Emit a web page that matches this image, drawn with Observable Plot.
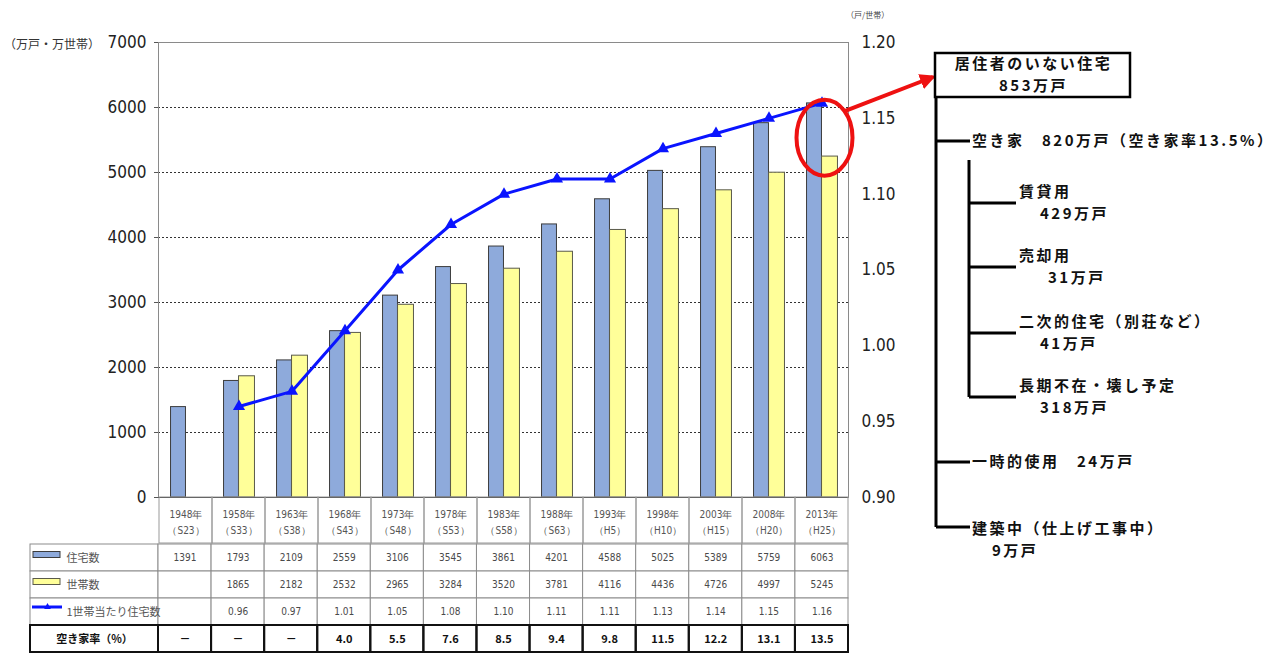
<!DOCTYPE html>
<html>
<head>
<meta charset="utf-8">
<script src="https://cdn.jsdelivr.net/npm/d3@7"></script>
<script src="https://cdn.jsdelivr.net/npm/@observablehq/plot@0.6"></script>
<style>
  html, body { margin: 0; padding: 0; background: #fff; }
  #chart { position: relative; width: 1279px; height: 653px; overflow: hidden; background: #fff;
           font-family: "Noto Sans CJK JP", "Noto Sans", sans-serif; }
  #chart svg { position: absolute; left: 0; top: 0; }
</style>
</head>
<body>
<div id="chart"></div>
<script>
// ---- data -------------------------------------------------------------
const years = ["1948年","1958年","1963年","1968年","1973年","1978年","1983年","1988年","1993年","1998年","2003年","2008年","2013年"];
const eras = ["（S23）","（S33）","（S38）","（S43）","（S48）","（S53）","（S58）","（S63）","（H5）","（H10）","（H15）","（H20）","（H25）"];
const housing = [1391, 1793, 2109, 2559, 3106, 3545, 3861, 4201, 4588, 5025, 5389, 5759, 6063];      // 住宅数（万戸）
const households = [null, 1865, 2182, 2532, 2965, 3284, 3520, 3781, 4116, 4436, 4726, 4997, 5245]; // 世帯数（万世帯）
const perHousehold = [null, 0.96, 0.97, 1.01, 1.05, 1.08, 1.10, 1.11, 1.11, 1.13, 1.14, 1.15, 1.16]; // 1世帯当たり住宅数
const vacancyRate = [null, null, null, 4.0, 5.5, 7.6, 8.5, 9.4, 9.8, 11.5, 12.2, 13.1, 13.5];      // 空き家率（%）

const leftTicks = [0, 1000, 2000, 3000, 4000, 5000, 6000, 7000];
const rightTicks = [0.90, 0.95, 1.00, 1.05, 1.10, 1.15, 1.20];
const rowLabels = ["住宅数", "世帯数", "1世帯当たり住宅数", "空き家率（%）"];

// 2013年の居住者のいない住宅の内訳（万戸）
const unoccupiedTotal = 853;
const vacantTotal = 820;
const vacantTypes = ["賃貸用", "売却用", "二次的住宅（別荘など）", "長期不在・壊し予定"];
const vacantUnits = [429, 31, 41, 318];
const otherTypes = ["一時的使用", "建築中（仕上げ工事中）"];
const otherUnits = [24, 9];

// ---- layout -----------------------------------------------------------
const W = 1279, H = 653;
const FL = 158, FR = 848, FT = 42, FB = 497;      // plot frame
const HEAD_B = 543, TABLE_B = 652, TABLE_L = 30;  // data table
const colW = (FR - FL) / years.length;
const numFont = "'Liberation Sans Narrow','DejaVu Sans Condensed','Liberation Sans',sans-serif";
const jpFont = "'Noto Sans CJK JP','Noto Sans',sans-serif";

const rows = years.map((year, i) => ({
  year, era: eras[i], housing: housing[i], households: households[i],
  ratio: perHousehold[i], vacancy: vacancyRate[i], col: i
}));

const chart = document.getElementById("chart");
const frameMargins = {width: W, height: H, marginLeft: FL, marginRight: W - FR};

// ---- bars: 住宅数 & 世帯数 (left axis) ---------------------------------
const barPlot = Plot.plot({
  ...frameMargins, marginTop: FT, marginBottom: H - FB,
  style: {background: "transparent", fontFamily: numFont, fontSize: "17px", color: "#222"},
  x: {type: "band", domain: years, padding: 0, axis: null},
  y: {domain: [0, 7000], label: null, axis: null},
  marks: [
    Plot.ruleY(leftTicks.filter(t => t > 0 && t < 7000), {stroke: "#333", strokeDasharray: "2,2"}),
    Plot.barY(rows, {x: "year", y: "housing", fill: "#8eaadb", stroke: "#3c3c3c", strokeWidth: 1,
      insetLeft: colW / 2 - 15, insetRight: colW / 2}),
    Plot.barY(rows.filter(d => d.households != null), {x: "year", y: "households", fill: "#ffff99", stroke: "#5a5a4a", strokeWidth: 1,
      insetLeft: colW / 2, insetRight: colW / 2 - 16}),
    Plot.frame({stroke: "#8a8a8a"}),
    Plot.ruleY([0], {stroke: "#333"}),
    Plot.axisY({ticks: leftTicks, tickSize: 4, tickPadding: 8, tickFormat: d => String(d), label: null, stroke: "#555"})
  ]
});
chart.append(barPlot);

// ---- line: 1世帯当たり住宅数 (right axis) -------------------------------
const ratioRows = rows.filter(d => d.ratio != null);
const linePlot = Plot.plot({
  ...frameMargins, marginTop: FT, marginBottom: H - FB,
  style: {background: "transparent", fontFamily: numFont, fontSize: "17px", color: "#222"},
  x: {type: "band", domain: years, padding: 0, axis: null},
  y: {domain: [0.9, 1.2], label: null, axis: null},
  marks: [
    Plot.line(ratioRows, {x: "year", y: "ratio", stroke: "#0a14ff", strokeWidth: 3}),
    Plot.dot(ratioRows, {x: "year", y: "ratio", symbol: "triangle", fill: "#0a14ff", r: 4.5}),
    Plot.axisY({anchor: "right", ticks: rightTicks, tickFormat: d3.format(".2f"), tickSize: 0, tickPadding: 13, label: null})
  ]
});
chart.append(linePlot);

// ---- table header: years ------------------------------------------------
const headPlot = Plot.plot({
  ...frameMargins, marginTop: FB, marginBottom: H - HEAD_B,
  style: {background: "transparent", fontFamily: numFont},
  x: {type: "band", domain: years, padding: 0, axis: null},
  y: {domain: ["head"], padding: 0, axis: null},
  marks: [
    Plot.cell(rows, {x: "year", y: () => "head", fill: "none", stroke: "#999", inset: 0}),
    Plot.text(rows, {x: "year", y: () => "head", text: d => `${d.year}\n${d.era}`,
      fontSize: 10, fill: "#555", lineHeight: 1.6})
  ]
});
chart.append(headPlot);

// ---- table body ---------------------------------------------------------
const cellText = [
  d => String(d.housing),
  d => d.households == null ? "" : String(d.households),
  d => d.ratio == null ? "" : d3.format(".2f")(d.ratio),
  d => d.vacancy == null ? "－" : d3.format(".1f")(d.vacancy)
];
const cells = rowLabels.flatMap((row, r) => rows.map(d => ({row, col: d.col, text: cellText[r](d), bold: r === 3})));
const labelCols = (FL - TABLE_L) / colW;
const labelRows = rowLabels.map((row, r) => ({row, bold: r === 3}));

const tablePlot = Plot.plot({
  width: W, height: H, marginLeft: TABLE_L, marginRight: W - FR, marginTop: HEAD_B, marginBottom: H - TABLE_B,
  style: {background: "transparent", fontFamily: numFont},
  x: {domain: [-labelCols, years.length], axis: null},
  y: {domain: rowLabels, padding: 0, axis: null},
  marks: [
    // cell borders
    Plot.barX(labelRows, {x1: -labelCols, x2: 0, y: "row", fill: "white", stroke: "#8c8c8c"}),
    Plot.barX(cells, {x1: "col", x2: d => d.col + 1, y: "row", fill: "white", stroke: "#8c8c8c"}),
    Plot.barX(labelRows.filter(d => d.bold), {x1: -labelCols, x2: 0, y: "row", fill: "none", stroke: "#111", strokeWidth: 2}),
    Plot.barX(cells.filter(d => d.bold), {x1: "col", x2: d => d.col + 1, y: "row", fill: "none", stroke: "#111", strokeWidth: 2}),
    // values
    Plot.text(cells.filter(d => !d.bold), {x: d => d.col + 0.5, y: "row", text: "text", fontSize: 10, fill: "#4a4a4a"}),
    Plot.text(cells.filter(d => d.bold), {x: d => d.col + 0.5, y: "row", text: "text", fontSize: 11, fontWeight: "bold", fill: "#111",
      fontFamily: jpFont}),
    // legend swatches
    Plot.barX([rowLabels[0]], {x1: -labelCols + 3 / colW, x2: -labelCols + 30 / colW, y: d => d,
      insetTop: 10.5, insetBottom: 10.5, dy: -3, fill: "#8eaadb", stroke: "#3c3c3c"}),
    Plot.barX([rowLabels[1]], {x1: -labelCols + 3 / colW, x2: -labelCols + 30 / colW, y: d => d,
      insetTop: 10.5, insetBottom: 10.5, dy: -3, fill: "#ffff99", stroke: "#5a5a4a"}),
    Plot.ruleY([rowLabels[2]], {x1: -labelCols + 2 / colW, x2: -labelCols + 32 / colW, y: d => d, dy: -5,
      stroke: "#0a14ff", strokeWidth: 3}),
    Plot.dot([rowLabels[2]], {x: -labelCols + 17 / colW, y: d => d, dy: -5, symbol: "triangle", r: 2.5, fill: "#0a14ff"}),
    // row labels
    Plot.text(rowLabels.slice(0, 3), {x: -labelCols, y: d => d, dx: 36, text: d => d, textAnchor: "start",
      fontSize: 11, fill: "#555", fontFamily: jpFont}),
    Plot.text(rowLabels.slice(3), {x: -labelCols / 2, y: d => d, text: d => d,
      fontSize: 11, fontWeight: "bold", fill: "#111", fontFamily: jpFont})
  ]
});
chart.append(tablePlot);

// ---- annotations --------------------------------------------------------
const xS = linePlot.scale("x"), yS = linePlot.scale("y");
const lastYear = years[years.length - 1];
const markX = xS.apply(lastYear) + xS.bandwidth / 2;
const markY = yS.apply(perHousehold[perHousehold.length - 1]);

const ann = d3.create("svg").attr("width", W).attr("height", H)
  .style("font-family", jpFont).style("overflow", "visible");

ann.append("defs").append("marker")
  .attr("id", "redhead").attr("viewBox", "0 0 10 10").attr("refX", 8).attr("refY", 5)
  .attr("markerWidth", 4).attr("markerHeight", 4).attr("orient", "auto")
  .append("path").attr("d", "M0,0L10,5L0,10z").attr("fill", "#ee1111");

// axis units
ann.append("text").attr("x", 4).attr("y", 49).attr("font-size", 12).attr("fill", "#333").text("（万戸・万世帯）");
ann.append("text").attr("x", 846).attr("y", 18).attr("font-size", 8).attr("fill", "#444").text("（戸/世帯）");

// highlight of the latest survey
const ell = {cx: markX + 3, cy: markY + 35, rx: 28, ry: 38};
ann.append("ellipse").attr("cx", ell.cx).attr("cy", ell.cy).attr("rx", ell.rx).attr("ry", ell.ry)
  .attr("fill", "none").attr("stroke", "#ee1111").attr("stroke-width", 4);

// breakdown tree
const boxL = 935, boxR = 1130, boxT = 53, boxB = 97;
const trunkX = boxL + 1, subX = 969;
ann.append("line")
  .attr("x1", ell.cx + ell.rx * 0.72).attr("y1", ell.cy - ell.ry * 0.7)
  .attr("x2", boxL - 2).attr("y2", (boxT + boxB) / 2 + 2)
  .attr("stroke", "#ee1111").attr("stroke-width", 4).attr("marker-end", "url(#redhead)");

const label = (x, y, txt, anchor = "start") => ann.append("text")
  .attr("x", x).attr("y", y).attr("text-anchor", anchor)
  .attr("font-size", 15).attr("font-weight", "bold").attr("letter-spacing", 2.5).attr("fill", "#111")
  .text(txt);

ann.append("rect").attr("x", boxL).attr("y", boxT).attr("width", boxR - boxL).attr("height", boxB - boxT)
  .attr("fill", "white").attr("stroke", "#000").attr("stroke-width", 2.5);
label((boxL + boxR) / 2 + 1, 69, "居住者のいない住宅", "middle");
label((boxL + boxR) / 2 + 1, 91, `${unoccupiedTotal}万戸`, "middle");

const stroke = g => g.attr("stroke", "#000").attr("stroke-width", 3);
const branchYs = [141, 462, 527];
ann.append("line").attr("x1", trunkX).attr("x2", trunkX).attr("y1", boxB).attr("y2", branchYs[2]).call(stroke);
branchYs.forEach(y => ann.append("line").attr("x1", trunkX).attr("x2", 970).attr("y1", y).attr("y2", y).call(stroke));

label(972, 146, `空き家　${vacantTotal}万戸（空き家率${vacancyRate[vacancyRate.length - 1].toFixed(1)}%）`);

const subYs = [203, 267, 333, 397];
const subValueX = [1040, 1048, 1040, 1040];
ann.append("line").attr("x1", subX).attr("x2", subX).attr("y1", 160).attr("y2", subYs[3]).call(stroke);
vacantTypes.forEach((name, i) => {
  ann.append("line").attr("x1", subX).attr("x2", 1016).attr("y1", subYs[i]).attr("y2", subYs[i]).call(stroke);
  label(1019, subYs[i] - 6, name);
  label(subValueX[i], subYs[i] + 16, `${vacantUnits[i]}万戸`);
});

label(972, 467, `${otherTypes[0]}　${otherUnits[0]}万戸`);
label(972, 534, otherTypes[1]);
label(992, 556, `${otherUnits[1]}万戸`);

chart.append(ann.node());
</script>
</body>
</html>
